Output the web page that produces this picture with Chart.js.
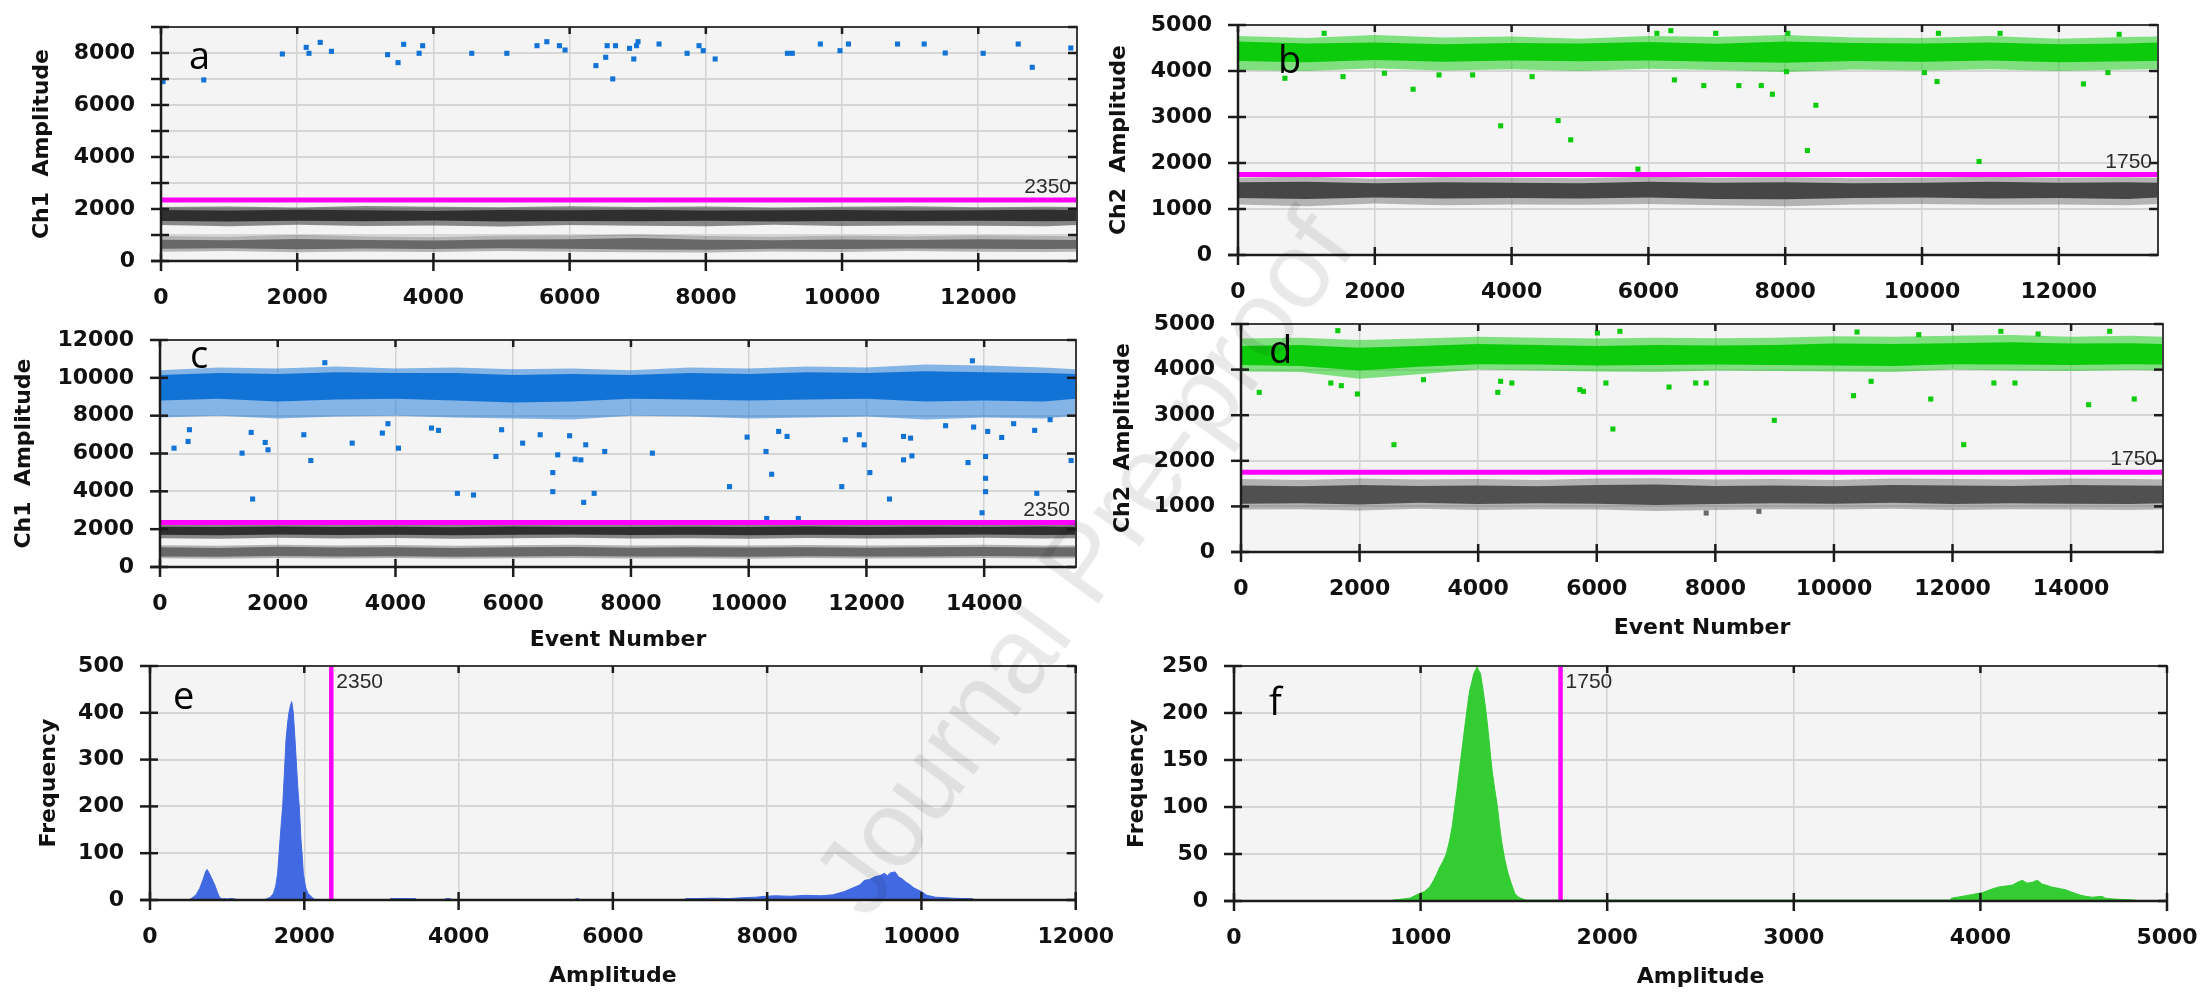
<!DOCTYPE html>
<html>
<head>
<meta charset="utf-8">
<script src="https://cdn.jsdelivr.net/npm/chart.js@4.4.0/dist/chart.umd.min.js"></script>
<style>
  html, body { margin: 0; padding: 0; background: #fff; overflow: hidden; }
  #fig { position: relative; width: 2204px; height: 993px; overflow: hidden; }
  #fig canvas { position: absolute; }
  #wm { position: absolute; left: 1082px; top: 562px; transform: translate(-50%, -50%) rotate(-54deg);
        font: 108px 'Liberation Sans', sans-serif; color: rgba(0,0,0,0.085); white-space: nowrap; pointer-events: none; }
</style>
</head>
<body>
<div id="fig">
  <canvas id="pa"></canvas>
  <canvas id="pb"></canvas>
  <canvas id="pc"></canvas>
  <canvas id="pd"></canvas>
  <canvas id="pe"></canvas>
  <canvas id="pf"></canvas>
  <div id="wm">Journal Pre-proof</div>
</div>
<script>
// event numbers where the droplet band edges were read
const evAB = [0, 1000, 2000, 3000, 4000, 5000, 6000, 7000, 8000, 9000, 10000, 11000, 12000, 13000, 13450];
const evCD = [0, 1000, 2000, 3000, 4000, 5000, 6000, 7000, 8000, 9000, 10000, 11000, 12000, 13000, 14000, 15000, 15560];

// x tick labels
const tickEvAB = [0, 2000, 4000, 6000, 8000, 10000, 12000];
const tickEvCD = [0, 2000, 4000, 6000, 8000, 10000, 12000, 14000];
const tickAmpE = [0, 2000, 4000, 6000, 8000, 10000, 12000];
const tickAmpF = [0, 1000, 2000, 3000, 4000, 5000];

// panel a : Ch1 bands
const aDarkOutHi = [2080, 2100, 2060, 2120, 2090, 2070, 2110, 2080, 2100, 2060, 2090, 2110, 2070, 2090, 2080];
const aDarkOutLo = [1380, 1340, 1390, 1350, 1370, 1330, 1380, 1360, 1340, 1390, 1350, 1370, 1360, 1340, 1380];
const aDarkInHi  = [1960, 1940, 1970, 1950, 1930, 1960, 1950, 1970, 1940, 1950, 1960, 1940, 1950, 1970, 1950];
const aDarkInLo  = [1540, 1520, 1550, 1530, 1560, 1520, 1540, 1530, 1550, 1520, 1540, 1530, 1550, 1530, 1540];
const aGrayOutHi = [960, 940, 1000, 950, 930, 970, 980, 1020, 960, 940, 970, 950, 980, 960, 950];
const aGrayOutLo = [360, 380, 340, 370, 350, 380, 360, 340, 330, 370, 350, 380, 360, 350, 360];
const aGrayInHi  = [820, 800, 850, 810, 790, 830, 840, 880, 820, 800, 830, 810, 840, 820, 810];
const aGrayInLo  = [470, 490, 450, 480, 460, 490, 470, 440, 430, 470, 460, 480, 470, 460, 470];
const aBlue = [[30,6900],[628,6965],[1782,7962],[2132,8217],[2173,7988],[2338,8409],[2503,8064],[3327,7936],
  [3481,7630],[3563,8333],[3790,7988],[3842,8281],[4563,7988],[5078,7988],[5521,8281],[5665,8435],[5850,8281],
  [5933,8115],[6386,7515],[6530,7834],[6551,8281],[6633,7003],[6674,8281],[6880,8179],[6942,7770],[6983,8281],
  [7004,8435],[7313,8345],[7725,7988],[7900,8281],[7962,8089],[8137,7770],[9198,7988],[9270,7988],[9682,8345],
  [9970,8089],[10094,8345],[10815,8345],[11206,8345],[11515,8000],[12072,7988],[12587,8345],[12793,7450],[13359,8192]];

// panel b : Ch2 bands
const bGreenOutHi = [4760, 4720, 4780, 4730, 4750, 4700, 4760, 4740, 4780, 4730, 4720, 4760, 4700, 4740, 4750];
const bGreenOutLo = [4020, 4000, 4060, 4010, 4040, 4000, 4050, 4020, 3980, 4030, 4010, 4040, 4000, 4030, 4040];
const bGreenInHi  = [4640, 4600, 4620, 4580, 4610, 4600, 4630, 4590, 4640, 4610, 4600, 4620, 4580, 4600, 4620];
const bGreenInLo  = [4220, 4190, 4240, 4200, 4230, 4210, 4230, 4200, 4180, 4220, 4200, 4230, 4190, 4210, 4220];
const bGrayOutHi  = [1680, 1700, 1660, 1690, 1680, 1670, 1700, 1680, 1690, 1670, 1680, 1700, 1680, 1690, 1680];
const bGrayOutLo  = [1100, 1060, 1120, 1080, 1100, 1090, 1110, 1080, 1060, 1100, 1110, 1090, 1100, 1080, 1110];
const bGrayInHi   = [1580, 1590, 1560, 1580, 1570, 1560, 1590, 1570, 1580, 1560, 1570, 1590, 1570, 1580, 1570];
const bGrayInLo   = [1240, 1220, 1250, 1230, 1240, 1230, 1250, 1220, 1210, 1240, 1250, 1230, 1240, 1220, 1250];
const bGreen = [[686,3842],[1536,3878],[2140,3951],[2560,3604],[2939,3915],[3430,3915],[3840,2808],[4300,3878],
  [4680,2923],[4864,2504],[5847,1867],[6380,3806],[6810,3683],[7322,3683],[7650,3683],[7813,3495],[8018,3987],
  [8325,2272],[8448,3256],[10035,3965],[10220,3770],[10834,2033],[12360,3719],[12718,3965],
  [1260,4819],[6124,4819],[6328,4877],[6984,4819],[8038,4819],[10240,4819],[11141,4819],[12882,4797]];

// panel c : Ch1 bands
const cBlueOutHi = [10400, 10550, 10500, 10600, 10500, 10550, 10450, 10500, 10400, 10550, 10500, 10600, 10550, 10700, 10650, 10550, 10450];
const cBlueOutLo = [7900, 8000, 7850, 7950, 8000, 7900, 7850, 7800, 8000, 7950, 7850, 7900, 7950, 7800, 7900, 7850, 8000];
const cBlueInHi  = [10150, 10250, 10200, 10300, 10250, 10250, 10150, 10200, 10150, 10250, 10200, 10300, 10250, 10350, 10300, 10250, 10200];
const cBlueInLo  = [8800, 8900, 8750, 8850, 8900, 8800, 8700, 8750, 8900, 8850, 8800, 8850, 8900, 8750, 8800, 8750, 8900];
const cDarkOutHi = [2250, 2230, 2260, 2240, 2250, 2220, 2260, 2240, 2230, 2250, 2240, 2260, 2230, 2250, 2240, 2260, 2240];
const cDarkOutLo = [1520, 1500, 1540, 1510, 1530, 1500, 1520, 1540, 1510, 1520, 1500, 1530, 1510, 1520, 1540, 1510, 1520];
const cDarkInHi  = [2130, 2110, 2140, 2120, 2130, 2100, 2140, 2120, 2110, 2130, 2120, 2140, 2110, 2130, 2120, 2140, 2120];
const cDarkInLo  = [1700, 1680, 1720, 1690, 1710, 1680, 1700, 1720, 1690, 1700, 1680, 1710, 1690, 1700, 1720, 1690, 1700];
const cGrayOutHi = [1150, 1120, 1180, 1140, 1160, 1120, 1150, 1170, 1130, 1150, 1140, 1160, 1130, 1150, 1170, 1140, 1150];
const cGrayOutLo = [460, 440, 480, 450, 470, 440, 460, 480, 450, 460, 440, 470, 450, 460, 480, 450, 460];
const cGrayInHi  = [1040, 1010, 1070, 1030, 1050, 1010, 1040, 1060, 1020, 1040, 1030, 1050, 1020, 1040, 1060, 1030, 1040];
const cGrayInLo  = [560, 540, 580, 550, 570, 540, 560, 580, 550, 560, 540, 570, 550, 560, 580, 550, 560];
const cBlue = [[238,6283],[477,6637],[500,7257],[1394,6018],[1549,7115],[1573,3593],[1787,6584],[1835,6195],
  [2443,6991],[2562,5629],[3265,6549],[3777,7080],[3872,7576],[4051,6283],[4611,7345],[4730,7222],[5052,3894],
  [5326,3805],[5707,5841],[5803,7257],[6160,6549],[6458,6991],[6672,4991],[6672,3982],[6756,5929],[6958,6938],
  [7053,5699],[7149,5664],[7197,3416],[7232,6460],[7375,3894],[7554,6106],[8364,6018],[9675,4248],[9973,6867],
  [10294,6106],[10390,4903],[10509,7168],[10652,6903],[10306,2566],[10843,2566],[11581,4248],[11641,6726],
  [11879,6991],[11963,6460],[12058,4991],[12392,3593],[12630,5664],[12630,6903],[12773,5876],[12749,6814],
  [13345,7469],[13726,5522],[13821,7398],[13964,2867],[14024,4690],[14024,3982],[14024,5841],[14060,7168],
  [14298,6849],[14501,7576],[14858,7222],[14894,3894],[15120,7788],[15477,5629],[13800,10900],[2800,10800]];

// panel d : Ch2 bands
const dGreenOutHi = [4680, 4700, 4650, 4680, 4720, 4700, 4680, 4700, 4690, 4700, 4730, 4720, 4740, 4760, 4720, 4740, 4720];
const dGreenOutLo = [3960, 3950, 3800, 3900, 4000, 3980, 3960, 3950, 3980, 3970, 3960, 3950, 4000, 3980, 3970, 3990, 3980];
const dGreenInHi  = [4520, 4540, 4480, 4520, 4560, 4540, 4520, 4540, 4530, 4540, 4570, 4560, 4580, 4600, 4570, 4580, 4560];
const dGreenInLo  = [4100, 4080, 3980, 4060, 4120, 4110, 4090, 4100, 4110, 4100, 4090, 4080, 4120, 4110, 4100, 4120, 4110];
const dGrayOutHi  = [1600, 1580, 1610, 1590, 1600, 1580, 1610, 1620, 1590, 1600, 1580, 1610, 1600, 1590, 1610, 1600, 1590];
const dGrayOutLo  = [930, 940, 910, 950, 920, 940, 930, 900, 920, 940, 930, 950, 920, 940, 930, 920, 940];
const dGrayInHi   = [1460, 1440, 1470, 1450, 1460, 1440, 1470, 1480, 1450, 1460, 1440, 1470, 1460, 1450, 1470, 1460, 1450];
const dGrayInLo   = [1060, 1070, 1040, 1080, 1050, 1070, 1060, 1030, 1050, 1070, 1060, 1080, 1050, 1070, 1060, 1050, 1070];
const dGreen = [[308,3501],[1633,4854],[1515,3706],[1692,3648],[1964,3465],[2580,2354],[3077,3779],[4331,3501],
  [4379,3743],[4568,3706],[5716,3560],[5775,3523],[6012,4803],[6154,3706],[6272,2697],[6390,4839],[7219,3618],
  [7668,3706],[7846,3706],[8994,2887],[10331,3428],[10390,4825],[10627,3743],[11633,3355],[11431,4766],
  [12189,2354],[12698,3706],[13053,3706],[12816,4839],[13443,4781],[14296,3231],[14651,4839],[15065,3355]];
const dGrayPts = [[7846,855],[8734,892]];

// panel e : Ch1 amplitude histogram [amplitude, frequency]
const eHist = [[0,0],[500,0],[520,2],[560,6],[600,12],[645,25],[690,45],[720,60],[740,65],[765,58],[795,48],
  [840,32],[870,18],[900,6],[935,2],[960,3],[1000,2],[1050,3],[1110,2],[1130,0],
  [1480,0],[1520,3],[1560,6],[1600,14],[1630,30],[1655,58],[1686,129],[1705,170],[1720,200],[1742,271],
  [1763,342],[1785,380],[1800,399],[1820,415],[1836,424],[1845,415],[1858,399],[1880,342],[1905,271],
  [1920,230],[1935,200],[1957,129],[1975,90],[1987,58],[2005,38],[2021,25],[2050,14],[2086,8],[2110,4],
  [2129,2],[2150,0],[3100,0],[3120,3],[3440,3],[3460,0],[3820,0],[3830,3],[3890,3],[3900,0],
  [5510,0],[5520,3],[5560,3],[5570,0],[6920,0],[6940,3],[7100,3],[7300,4],[7500,3],[7700,5],[7850,6],
  [7990,8],[8100,9],[8300,8],[8500,10],[8700,9],[8850,11],[9000,18],[9100,25],[9200,32],[9260,42],
  [9330,44],[9400,50],[9460,52],[9520,57],[9560,52],[9600,58],[9660,60],[9700,50],[9750,45],[9800,38],
  [9840,34],[9900,26],[9950,22],[10000,18],[10070,10],[10180,6],[10300,5],[10400,4],[10550,3],[10660,3],
  [10680,0],[12000,0]];

// panel f : Ch2 amplitude histogram [amplitude, frequency]
const fHist = [[0,0],[840,0],[852,1],[900,2],[942,3],[995,8],[1020,10],[1049,15],[1070,22],[1085,28],[1100,35],
  [1120,42],[1138,50],[1156,65],[1170,80],[1183,100],[1195,118],[1206,136],[1218,155],[1228,171],[1240,190],
  [1251,207],[1263,224],[1275,233],[1285,242],[1295,246],[1303,249],[1312,245],[1321,242],[1335,224],
  [1347,207],[1357,190],[1367,171],[1376,152],[1385,136],[1398,118],[1412,100],[1422,82],[1433,65],[1450,45],
  [1469,29],[1487,18],[1505,8],[1525,4],[1549,2],[1567,1],[3840,1],[3844,3],[3906,5],[3959,7],[4012,9],
  [4066,13],[4101,15],[4140,16],[4172,17],[4200,20],[4225,22],[4250,19],[4279,20],[4305,22],[4330,18],
  [4350,17],[4380,15],[4403,14],[4430,13],[4456,12],[4480,10],[4510,8],[4540,6],[4563,5],[4600,4],[4652,5],
  [4670,3],[4720,2],[4830,1],[4840,0],[5000,0]];

const thrCh1 = 2350;
const thrCh2 = 1750;

Chart.defaults.font.family = 'DejaVu Sans';

function pts(xs, ys) { return xs.map((x, i) => ({x: x, y: ys[i]})); }
function pairs(arr) { return arr.map(p => ({x: p[0], y: p[1]})); }

function band(xs, hi, lo, color, order) {
  return [
    {type: 'line', data: pts(xs, hi), backgroundColor: color, borderColor: 'rgba(0,0,0,0)', borderWidth: 0,
     pointRadius: 0, fill: '+1', tension: 0, order: order},
    {type: 'line', data: pts(xs, lo), borderColor: 'rgba(0,0,0,0)', borderWidth: 0, pointRadius: 0,
     fill: false, tension: 0, order: order}
  ];
}
function dots(arr, color) {
  return {type: 'scatter', data: pairs(arr), backgroundColor: color, borderWidth: 0, pointStyle: 'rect',
          pointRadius: 3.6, order: 3};
}
function hline(v, x0, x1) {
  return {type: 'line', data: [{x: x0, y: v}, {x: x1, y: v}], borderColor: '#ff00ff', borderWidth: 5,
          pointRadius: 0, fill: false, order: 1};
}
function vline(v, y0, y1) {
  return {type: 'line', data: [{x: v, y: y0}, {x: v, y: y1}], borderColor: '#ff00ff', borderWidth: 4.5,
          pointRadius: 0, fill: false, order: 1};
}
function hist(arr, color) {
  return {type: 'line', data: pairs(arr), borderColor: color, backgroundColor: color, borderWidth: 1,
          pointRadius: 0, fill: 'origin', tension: 0, order: 3};
}

// plot background, frame, tick marks, threshold label, panel letter
const framePlugin = {
  id: 'frame',
  beforeDraw(chart) {
    const {ctx, chartArea: a} = chart;
    ctx.save();
    ctx.fillStyle = '#f4f4f4';
    ctx.fillRect(a.left, a.top, a.width, a.height);
    ctx.restore();
  },
  afterDraw(chart, args, o) {
    const {ctx, chartArea: a, scales: {x, y}} = chart;
    const seg = (x0, y0, x1, y1) => { ctx.beginPath(); ctx.moveTo(x0, y0); ctx.lineTo(x1, y1); ctx.stroke(); };
    ctx.save();
    ctx.strokeStyle = '#3c3c3c';
    ctx.lineWidth = 2;
    ctx.strokeRect(a.left, a.top, a.width, a.height);
    ctx.strokeStyle = '#1c1c1c';
    ctx.lineWidth = 2.5;
    seg(a.left, a.top, a.left, a.bottom);
    seg(a.left - 10, a.bottom, a.right, a.bottom);
    y.ticks.forEach(t => {
      const py = y.getPixelForValue(t.value);
      seg(a.left - 10, py, a.left + 8, py);
      seg(a.right - 9, py, a.right, py);
    });
    x.ticks.forEach(t => {
      const px = x.getPixelForValue(t.value);
      seg(px, a.bottom - 8, px, a.bottom + 10);
      seg(px, a.top, px, a.top + 7);
    });
    ctx.fillStyle = '#2b2b2b';
    ctx.font = "21px 'Liberation Sans'";
    if (o.thrAxis === 'y') {
      ctx.textAlign = 'right'; ctx.textBaseline = 'bottom';
      ctx.fillText(o.thrText, a.right - 6, y.getPixelForValue(o.thrValue) - 2);
    } else {
      ctx.textAlign = 'left'; ctx.textBaseline = 'top';
      ctx.fillText(o.thrText, x.getPixelForValue(o.thrValue) + 5, a.top + 6);
    }
    ctx.fillStyle = '#000';
    ctx.font = "38px 'Open Sans'";
    ctx.textAlign = 'left'; ctx.textBaseline = 'alphabetic';
    ctx.fillText(o.letter, a.left + o.lx, a.top + o.ly);
    ctx.restore();
  }
};

const tickFont = {family: 'DejaVu Sans', weight: 'bold', size: 22};

function panel(id, box, cfg) {
  const YW = 150, PT = 40, PR = 60, XH = 100;
  const cv = document.getElementById(id);
  cv.width = box.R - box.L + YW + PR;
  cv.height = box.B - box.T + PT + XH;
  cv.style.left = (box.L - YW) + 'px';
  cv.style.top = (box.T - PT) + 'px';
  new Chart(cv, {
    type: 'scatter',
    data: {datasets: cfg.datasets},
    options: {
      responsive: false,
      animation: false,
      events: [],
      layout: {padding: {left: 0, top: PT, right: PR, bottom: 0}},
      plugins: {legend: {display: false}, tooltip: {enabled: false}, frame: cfg.frame},
      scales: {
        x: {
          type: 'linear', min: cfg.x[0], max: cfg.x[1],
          afterFit: s => { s.height = XH; },
          afterBuildTicks: s => { s.ticks = cfg.xTicks.map(v => ({value: v})); },
          grid: {color: '#d3d3d3', lineWidth: 1.5, drawTicks: false},
          border: {display: false},
          ticks: {autoSkip: false, maxRotation: 0, padding: 24, color: '#111', font: tickFont,
                  callback: v => String(v)},
          title: {display: !!cfg.xTitle, text: cfg.xTitle || '', color: '#111', font: tickFont,
                  padding: {top: 0, bottom: cfg.xTitlePad || 11}}
        },
        y: {
          type: 'linear', min: cfg.y[0], max: cfg.y[1],
          afterFit: s => { s.width = YW; },
          grid: {color: '#d6d6d6', lineWidth: 2, drawTicks: false},
          border: {display: false},
          ticks: {stepSize: cfg.y[2], includeBounds: false, autoSkip: false, padding: 26, color: '#111',
                  font: tickFont, callback: v => (v % cfg.y[3] === 0 ? String(v) : '')},
          title: {display: true, text: cfg.yTitle, color: '#111', font: tickFont,
                  padding: {top: cfg.yTitlePad, bottom: 0}}
        }
      }
    },
    plugins: [framePlugin]
  });
}

const blue = '#1273d6', blueFringe = 'rgba(18,115,214,0.5)';
const green = '#0bcb0b', greenFringe = 'rgba(11,203,11,0.5)';
const dark = '#2f2f2f', darkFringe = 'rgba(45,45,45,0.55)';
const gray = '#686868', grayFringe = 'rgba(100,100,100,0.45)';

panel('pa', {L: 161, T: 27, R: 1077, B: 261}, {
  x: [0, 13450], xTicks: tickEvAB, y: [0, 9000, 1000, 2000], yTitle: 'Ch1  Amplitude', yTitlePad: 18,
  frame: {thrAxis: 'y', thrValue: thrCh1, thrText: '2350', letter: 'a', lx: 28, ly: 42},
  datasets: [].concat(
    band(evAB, aDarkOutHi, aDarkOutLo, darkFringe, 6),
    band(evAB, aDarkInHi, aDarkInLo, dark, 5),
    band(evAB, aGrayOutHi, aGrayOutLo, grayFringe, 6),
    band(evAB, aGrayInHi, aGrayInLo, gray, 5),
    [dots(aBlue, blue), hline(thrCh1, 0, 13450)])
});

panel('pb', {L: 1238, T: 25, R: 2158, B: 255}, {
  x: [0, 13450], xTicks: tickEvAB, y: [0, 5000, 1000, 1000], yTitle: 'Ch2  Amplitude', yTitlePad: 18,
  frame: {thrAxis: 'y', thrValue: thrCh2, thrText: '1750', letter: 'b', lx: 40, ly: 48},
  datasets: [].concat(
    band(evAB, bGreenOutHi, bGreenOutLo, greenFringe, 6),
    band(evAB, bGreenInHi, bGreenInLo, green, 5),
    band(evAB, bGrayOutHi, bGrayOutLo, grayFringe, 6),
    band(evAB, bGrayInHi, bGrayInLo, '#464646', 5),
    [dots(bGreen, green), hline(thrCh2, 0, 13450)])
});

panel('pc', {L: 160, T: 340, R: 1076, B: 567}, {
  x: [0, 15560], xTicks: tickEvCD, y: [0, 12000, 2000, 2000], yTitle: 'Ch1  Amplitude', yTitlePad: 1,
  xTitle: 'Event Number', xTitlePad: 14,
  frame: {thrAxis: 'y', thrValue: thrCh1, thrText: '2350', letter: 'c', lx: 30, ly: 28},
  datasets: [].concat(
    band(evCD, cBlueOutHi, cBlueOutLo, blueFringe, 6),
    band(evCD, cBlueInHi, cBlueInLo, blue, 5),
    band(evCD, cDarkOutHi, cDarkOutLo, darkFringe, 6),
    band(evCD, cDarkInHi, cDarkInLo, dark, 5),
    band(evCD, cGrayOutHi, cGrayOutLo, grayFringe, 6),
    band(evCD, cGrayInHi, cGrayInLo, gray, 5),
    [dots(cBlue, blue), hline(thrCh1, 0, 15560)])
});

panel('pd', {L: 1241, T: 324, R: 2163, B: 552}, {
  x: [0, 15550], xTicks: tickEvCD, y: [0, 5000, 1000, 1000], yTitle: 'Ch2  Amplitude', yTitlePad: 19,
  xTitle: 'Event Number', xTitlePad: 11,
  frame: {thrAxis: 'y', thrValue: thrCh2, thrText: '1750', letter: 'd', lx: 28, ly: 39},
  datasets: [].concat(
    band(evCD, dGreenOutHi, dGreenOutLo, greenFringe, 6),
    band(evCD, dGreenInHi, dGreenInLo, green, 5),
    band(evCD, dGrayOutHi, dGrayOutLo, grayFringe, 6),
    band(evCD, dGrayInHi, dGrayInLo, '#505050', 5),
    [dots(dGreen, green), dots(dGrayPts, gray), hline(thrCh2, 0, 15550)])
});

panel('pe', {L: 150, T: 666, R: 1078, B: 900}, {
  x: [0, 12000], xTicks: tickAmpE, y: [0, 500, 100, 100], yTitle: 'Frequency', yTitlePad: 36,
  xTitle: 'Amplitude', xTitlePad: 11,
  frame: {thrAxis: 'x', thrValue: thrCh1, thrText: '2350', letter: 'e', lx: 23, ly: 43},
  datasets: [hist(eHist, '#4169e1'), vline(thrCh1, 0, 500)]
});

panel('pf', {L: 1234, T: 666, R: 2167, B: 901}, {
  x: [0, 5000], xTicks: tickAmpF, y: [0, 250, 50, 50], yTitle: 'Frequency', yTitlePad: 40,
  xTitle: 'Amplitude', xTitlePad: 11,
  frame: {thrAxis: 'x', thrValue: thrCh2, thrText: '1750', letter: 'f', lx: 35, ly: 49},
  datasets: [hist(fHist, '#33cc33'), vline(thrCh2, 0, 250)]
});
</script>
</body>
</html>
